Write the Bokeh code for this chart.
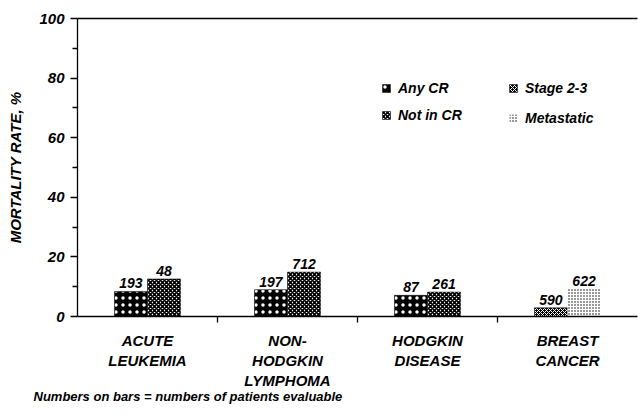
from bokeh.plotting import figure
from bokeh.models import Range1d, FixedTicker, LinearAxis, Legend, LegendItem, Title, ColumnDataSource
from bokeh.transform import dodge
from bokeh.embed import file_html
from bokeh.resources import INLINE
from bokeh.core.properties import value

# ---- data ----
categories = ["ACUTE\nLEUKEMIA", "NON-\nHODGKIN\nLYMPHOMA", "HODGKIN\nDISEASE", "BREAST\nCANCER"]
cat_pos = [0.5, 1.5, 2.5, 3.5]
first_vals = [8.4, 9.0, 7.1, 2.9]      # Any CR (x3) / Stage 2-3 (breast)
second_vals = [12.6, 14.9, 8.2, 9.3]   # Not in CR (x3) / Metastatic (breast)
first_n = ["193", "197", "87", "590"]
second_n = ["48", "712", "261", "622"]
y_ticks = [0, 20, 40, 60, 80, 100]
y_minor = [10, 30, 50, 70, 90]
footnote = "Numbers on bars = numbers of patients evaluable"

FONT = "Liberation Sans"
STYLE = "bold italic"
OFF = 0.118
W = 0.236

p = figure(width=638, height=416, x_range=Range1d(0, 4), y_range=Range1d(0, 100),
           output_backend="svg", toolbar_location=None,
           min_border_left=77, min_border_right=1, min_border_top=18, min_border_bottom=100)
p.grid.visible = False
p.outline_line_color = None
p.background_fill_color = "white"
p.border_fill_color = "white"

src_a = ColumnDataSource(dict(x=cat_pos[:3], top1=first_vals[:3], top2=second_vals[:3],
                              n1=first_n[:3], n2=second_n[:3]))
src_b = ColumnDataSource(dict(x=cat_pos[3:], top1=first_vals[3:], top2=second_vals[3:],
                              n1=first_n[3:], n2=second_n[3:]))

r_any = p.vbar(x=dodge("x", -OFF), top="top1", width=W, source=src_a,
               fill_color="black", line_color="black", line_width=0.5,
               hatch_pattern="dot", hatch_color="white", hatch_scale=7, hatch_weight=1.2)
r_not = p.vbar(x=dodge("x", OFF), top="top2", width=W, source=src_a,
               fill_color="white", line_color="black", line_width=0.5,
               hatch_pattern="diagonal_cross", hatch_color="black", hatch_scale=4, hatch_weight=1.8)
r_stage = p.vbar(x=dodge("x", -OFF), top="top1", width=W, source=src_b,
                 fill_color="black", line_color="black", line_width=0.5,
                 hatch_pattern="diagonal_cross", hatch_color="white", hatch_scale=4, hatch_weight=1.0)
r_meta = p.vbar(x=dodge("x", OFF), top="top2", width=W, source=src_b,
                fill_color="white", line_color=None,
                hatch_pattern="dot", hatch_color="black", hatch_scale=3, hatch_weight=1.3)

for src in (src_a, src_b):
    p.text(x=dodge("x", -OFF), y="top1", text="n1", source=src, y_offset=-3,
           text_align="center", text_baseline="bottom", text_font=value(FONT),
           text_font_style=STYLE, text_font_size="14px", text_color="black")
    p.text(x=dodge("x", OFF), y="top2", text="n2", source=src, y_offset=-3,
           text_align="center", text_baseline="bottom", text_font=value(FONT),
           text_font_style=STYLE, text_font_size="14px", text_color="black")

# ---- axes ----
yax = p.yaxis[0]
yax.ticker = FixedTicker(ticks=y_ticks, minor_ticks=y_minor)
yax.major_tick_in = 0
yax.major_tick_out = 7
yax.minor_tick_in = 0
yax.minor_tick_out = 5
yax.major_label_standoff = 6
yax.major_label_text_font = FONT
yax.major_label_text_font_style = STYLE
yax.major_label_text_font_size = "15px"
yax.major_label_text_color = "black"
yax.axis_label = "MORTALITY RATE, %"
yax.axis_label_text_font = FONT
yax.axis_label_text_font_style = STYLE
yax.axis_label_text_font_size = "15px"
yax.axis_label_text_color = "black"
yax.axis_label_standoff = 12
yax.axis_line_width = 1.3
yax.major_tick_line_width = 1.3
yax.minor_tick_line_width = 1.3

xax = p.xaxis[0]
xax.ticker = FixedTicker(ticks=cat_pos, minor_ticks=[1, 2, 3])
xax.major_tick_line_color = None
xax.major_tick_in = 0
xax.major_tick_out = 0
xax.minor_tick_in = 0
xax.minor_tick_out = 6
xax.minor_tick_line_width = 1.3
xax.major_label_overrides = {pos: lab for pos, lab in zip(cat_pos, categories)}
xax.major_label_standoff = 9
xax.major_label_text_font = FONT
xax.major_label_text_font_style = STYLE
xax.major_label_text_font_size = "15px"
xax.major_label_text_color = "black"
xax.major_label_text_line_height = 1.2
xax.axis_line_width = 1.5

top_ax = LinearAxis(ticker=FixedTicker(ticks=[]), major_label_text_font_size="0px",
                    major_tick_line_color=None, minor_tick_line_color=None,
                    axis_line_width=1.3)
p.add_layout(top_ax, "above")

# ---- legends ----
leg_common = dict(border_line_color=None, background_fill_alpha=0, padding=0, margin=0,
                  glyph_width=10, glyph_height=10, label_height=10,
                  label_standoff=7, label_text_font=FONT, label_text_font_style=STYLE,
                  label_text_font_size="14px", label_text_color="black")
leg1 = Legend(items=[LegendItem(label="Any CR", renderers=[r_any]),
                     LegendItem(label="Not in CR", renderers=[r_not])],
              location=(304, 193), spacing=11, **leg_common)
leg2 = Legend(items=[LegendItem(label="Stage 2-3", renderers=[r_stage]),
                     LegendItem(label="Metastatic", renderers=[r_meta])],
              location=(431, 190), spacing=14, **leg_common)
p.add_layout(leg1)
p.add_layout(leg2)

p.add_layout(Title(text=footnote, align="left", offset=-44, standoff=-12,
                   text_font=FONT, text_font_style=STYLE, text_font_size="13px",
                   text_color="black"), "below")

open("out.html", "w").write(file_html(p, INLINE))
